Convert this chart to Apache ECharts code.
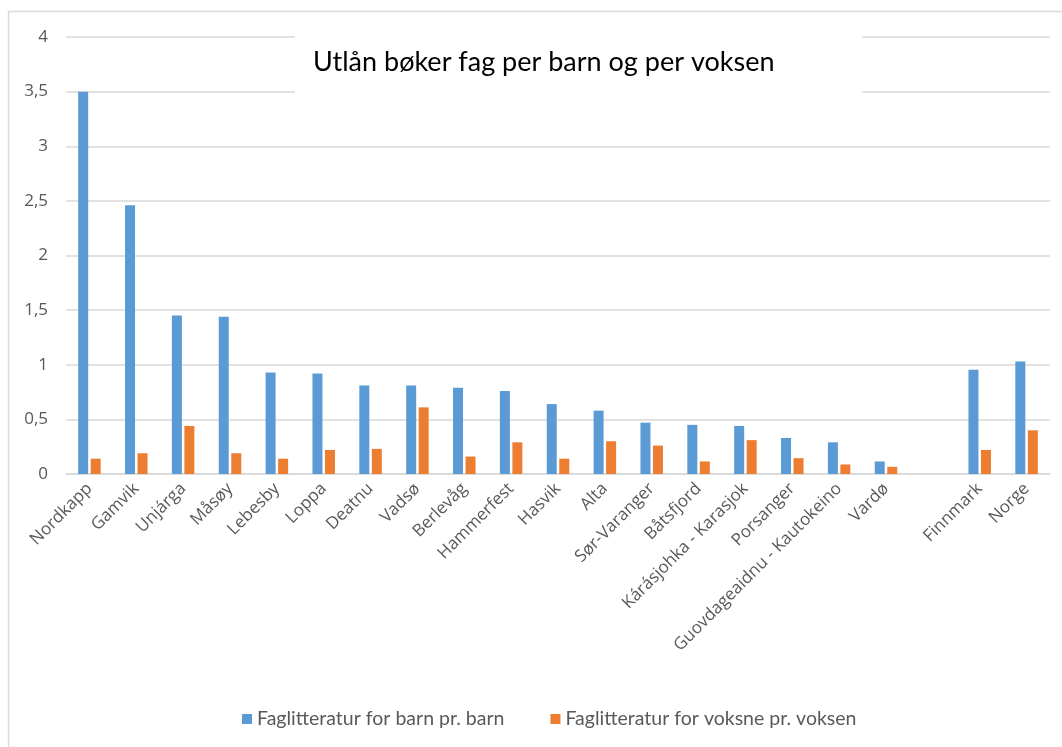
<!DOCTYPE html>
<html>
<head>
<meta charset="utf-8">
<script src="https://cdn.jsdelivr.net/npm/echarts@6/dist/echarts.min.js"></script>
<style>html,body{margin:0;padding:0;background:#fff;}#c{width:1062px;height:747px;}</style>
</head>
<body>
<div id="c"></div>
<script>
var categories = ['Nordkapp','Gamvik','Unjárga','Måsøy','Lebesby','Loppa','Deatnu','Vadsø','Berlevåg','Hammerfest','Hasvik','Alta','Sør-Varanger','Båtsfjord','Kárásjohka - Karasjok','Porsanger','Guovdageaidnu - Kautokeino','Vardø','','Finnmark','Norge'];
var barnValues = [3.5,2.46,1.45,1.44,0.93,0.92,0.81,0.81,0.79,0.76,0.64,0.58,0.47,0.45,0.44,0.33,0.29,0.115,null,0.955,1.03];
var voksneValues = [0.14,0.19,0.44,0.19,0.14,0.22,0.23,0.61,0.16,0.29,0.14,0.30,0.26,0.115,0.31,0.145,0.087,0.066,null,0.22,0.40];
var seriesNames = ['Faglitteratur for barn pr. barn','Faglitteratur for voksne pr. voksen'];
var titleText = 'Utlån bøker fag per barn og per voksen';

var chart = echarts.init(document.getElementById('c'), null, {renderer:'canvas'});
var gray = '#595959';
chart.setOption({
  animation:false,
  backgroundColor:'#fff',
  color:['#5B9BD5','#ED7D31'],
  grid:{left:66,right:12,top:37,bottom:273,containLabel:false},
  graphic:[
    {type:'line',shape:{x1:8.5,y1:11.5,x2:1062,y2:11.5},style:{stroke:'#d9d9d9',lineWidth:1.5},z:-1},
    {type:'line',shape:{x1:8.5,y1:11.5,x2:8.5,y2:747},style:{stroke:'#d9d9d9',lineWidth:1.5},z:-1},
    {type:'rect',shape:{x:295,y:33,width:567,height:68},style:{fill:'#fff'},z:50},
    {type:'text',left:313,top:49,style:{text:titleText,font:'27px Lato, sans-serif',fill:'#000'},z:51}
  ],
  legend:{
    bottom:13,left:237,
    itemWidth:10,itemHeight:10,itemGap:46,
    icon:'rect',
    textStyle:{color:gray,fontSize:19.5,fontFamily:'Lato, sans-serif'},
    data:seriesNames
  },
  xAxis:{
    type:'category',data:categories,
    axisLine:{lineStyle:{color:'#d9d9d9',width:1.5}},
    axisTick:{show:false},
    axisLabel:{rotate:45,interval:0,color:gray,fontSize:17,fontFamily:'Open Sans, sans-serif',margin:12}
  },
  yAxis:{
    type:'value',min:0,max:4,interval:0.5,
    axisLine:{show:false},axisTick:{show:false},
    splitLine:{lineStyle:{color:'#d9d9d9',width:1.5}},
    axisLabel:{color:gray,fontSize:17,fontFamily:'Open Sans, sans-serif',margin:18,
      formatter:function(v){return String(v).replace('.',',');}}
  },
  series:[
    {name:seriesNames[0],type:'bar',data:barnValues,barWidth:10,barGap:'25%'},
    {name:seriesNames[1],type:'bar',data:voksneValues,barWidth:10,barGap:'25%'}
  ]
});
</script>
</body>
</html>
